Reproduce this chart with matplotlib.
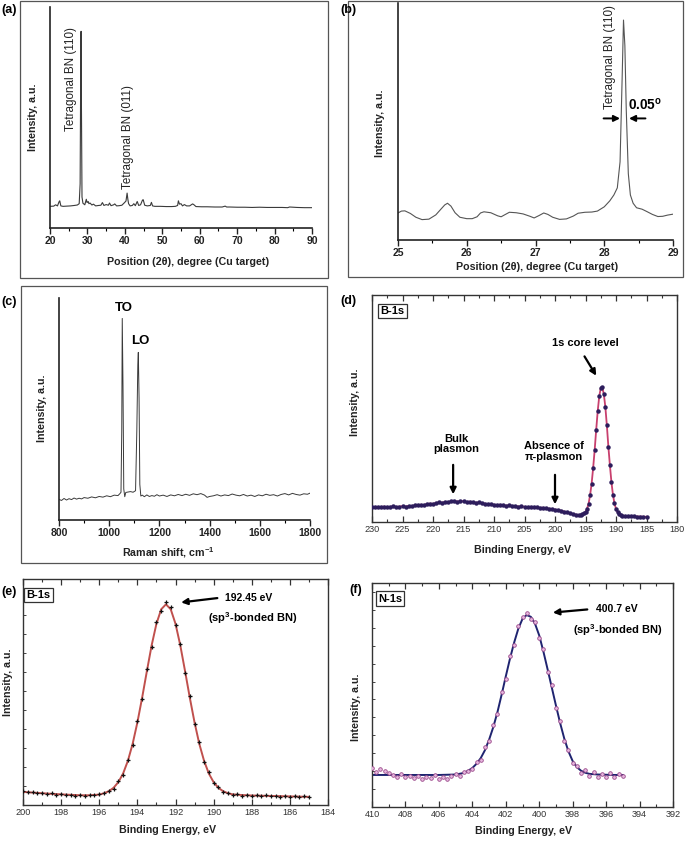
import numpy as np
import matplotlib
matplotlib.use('Agg')
import matplotlib.pyplot as plt
from matplotlib.ticker import MultipleLocator, NullFormatter, NullLocator
from matplotlib.patches import Rectangle

plt.rcParams['font.family'] = ['Liberation Sans', 'DejaVu Sans']
plt.rcParams['mathtext.fontset'] = 'custom'
plt.rcParams['mathtext.rm'] = 'Liberation Sans'
plt.rcParams['mathtext.bf'] = 'Liberation Sans:bold'
plt.rcParams['mathtext.it'] = 'Liberation Sans:italic'

# ---------------- data (intensities in % of axis height) ----------------
# (a) XRD survey
a_angle = [20.0, 21.0, 21.5, 22.0, 22.4, 22.6, 22.9, 23.5, 24.5, 25.5,
           26.5, 27.3, 27.8, 28.05, 28.2, 28.3, 28.4, 28.55, 28.8, 29.3,
           29.7, 29.9, 30.2, 30.4, 30.7, 31.2, 31.6, 32.2, 33.0, 33.6,
           34.0, 34.4, 35.0, 35.6, 35.9, 36.3, 37.0, 37.3, 37.8, 38.5,
           39.2, 39.8, 40.3, 40.6, 40.8, 41.0, 41.4, 42.0, 42.4, 42.8,
           43.3, 43.7, 44.2, 44.7, 44.9, 45.3, 46.0, 46.8, 47.1, 47.4,
           48.0, 49.5, 51.0, 52.5, 53.5, 54.1, 54.3, 54.6, 55.0, 55.4,
           55.9, 56.5, 57.3, 58.1, 58.4, 59.0, 60.5, 62.0, 64.0, 66.0,
           66.8, 67.2, 68.0, 70.0, 72.0, 74.0, 76.0, 78.0, 80.0, 82.0,
           83.5, 84.0, 86.0, 88.0, 90.0]
a_int = [9.8, 9.9, 10.5, 10.0, 11.8, 12.3, 10.0, 9.8, 9.9, 10.0,
         10.2, 10.4, 11.0, 20.0, 70.0, 89.0, 55.0, 14.0, 11.2, 10.5,
         13.0, 11.5, 12.0, 11.0, 11.3, 10.4, 10.8, 10.0, 10.2, 10.3,
         11.5, 10.2, 10.6, 10.3, 11.3, 10.1, 10.5, 10.9, 10.0, 10.1,
         10.3, 11.3, 12.2, 15.8, 13.0, 11.0, 10.0, 10.2, 11.0, 10.1,
         12.0, 10.2, 10.5, 12.6, 12.8, 10.3, 10.0, 10.2, 11.6, 10.0,
         9.8, 9.8, 9.7, 9.7, 9.8, 10.2, 12.3, 10.8, 11.0, 10.0,
         10.6, 10.0, 10.0, 10.9, 10.6, 9.7, 9.6, 9.6, 9.5, 9.5,
         9.9, 9.5, 9.5, 9.4, 9.4, 9.3, 9.4, 9.3, 9.3, 9.3,
         9.2, 9.5, 9.3, 9.2, 9.2]

# (b) XRD zoom on (110)
b_angle = [25.00, 25.05, 25.10, 25.18, 25.26, 25.35, 25.45, 25.55, 25.63, 25.68,
           25.72, 25.77, 25.83, 25.90, 26.00, 26.08, 26.15, 26.20, 26.25, 26.35,
           26.45, 26.50, 26.55, 26.62, 26.72, 26.82, 26.92, 26.98, 27.05, 27.12,
           27.18, 27.25, 27.35, 27.45, 27.55, 27.62, 27.72, 27.82, 27.90, 28.00,
           28.08, 28.14, 28.19, 28.23, 28.26, 28.28, 28.30, 28.32, 28.35, 28.38,
           28.42, 28.47, 28.55, 28.62, 28.70, 28.78, 28.85, 28.92, 29.00]
b_int = [11.4, 12.2, 12.3, 11.2, 9.6, 8.6, 8.8, 10.6, 13.2, 14.8,
         15.5, 14.3, 11.5, 9.6, 9.0, 9.0, 9.8, 11.4, 11.9, 11.5,
         10.2, 9.8, 10.6, 11.7, 11.5, 11.0, 10.0, 9.3, 10.3, 11.4,
         10.8, 9.6, 8.7, 8.9, 10.1, 11.3, 11.7, 11.8, 12.2, 14.0,
         16.5, 19.0, 22.0, 33.0, 68.0, 92.8, 82.0, 55.0, 28.0, 19.0,
         15.5, 13.6, 13.0, 12.0, 10.8, 9.9, 10.0, 10.5, 10.9]

# (c) Raman
c_shift = [800, 810, 820, 830, 840, 850, 860, 870, 880, 890, 900,
           915, 930, 945, 960, 975, 990, 1005, 1020, 1035,
           1042, 1047, 1050, 1052, 1055, 1058, 1062, 1066,
           1075, 1085, 1095, 1105,
           1110, 1114, 1116, 1119, 1122, 1126, 1132, 1140,
           1150, 1160, 1170, 1180, 1190, 1200,
           1215, 1230, 1245, 1260, 1275, 1290, 1305, 1320, 1335, 1350, 1365, 1380,
           1390, 1400,
           1415, 1430, 1445, 1460, 1475, 1490, 1505, 1520, 1535, 1550, 1565, 1580, 1595,
           1610, 1625, 1640, 1655, 1670, 1685, 1700, 1715, 1730, 1745, 1760, 1775, 1790,
           1800]
c_int = [9.3, 8.8, 9.7, 9.0, 9.6, 9.2, 9.9, 9.4, 9.8, 9.5, 10.1,
         9.8, 10.4, 10.0, 10.6, 10.3, 10.9, 10.5, 11.2, 11.0,
         11.8, 12.5, 40.0, 90.8, 60.0, 14.0, 10.5, 12.4,
         12.6, 12.8, 12.5, 13.2,
         40.0, 70.0, 75.5, 55.0, 16.0, 10.8, 11.2, 10.5,
         11.3, 10.6, 11.0, 10.7, 11.4, 10.8,
         11.2, 10.6, 11.3, 10.9, 11.5, 11.0, 11.6, 11.1, 11.8, 11.4, 11.9, 11.2,
         10.2, 10.6,
         10.9, 11.4, 10.8, 11.3, 11.0, 11.7, 11.2, 10.9, 11.5, 10.8, 11.2, 10.6, 11.3,
         10.9, 11.6, 11.1, 11.4, 10.8, 11.5, 11.9, 11.3, 12.0, 11.5, 11.2, 11.8, 11.6,
         12.1]

# (d) XPS B-1s wide
d_energy = [230.0, 229.5, 229.0, 228.5, 228.0, 227.5, 227.0, 226.5, 226.0, 225.5,
            225.0, 224.5, 224.0, 223.5, 223.0, 222.5, 222.0, 221.5, 221.0, 220.5,
            220.0, 219.5, 219.0, 218.5, 218.0, 217.5, 217.0, 216.5, 216.0, 215.5,
            215.0, 214.5, 214.0, 213.5, 213.0, 212.5, 212.0, 211.5, 211.0, 210.5,
            210.0, 209.5, 209.0, 208.5, 208.0, 207.5, 207.0, 206.5, 206.0, 205.5,
            205.0, 204.5, 204.0, 203.5, 203.0, 202.5, 202.0, 201.5, 201.0, 200.5,
            200.0, 199.5, 199.0, 198.5, 198.0, 197.5, 197.0, 196.5, 196.0,
            195.75, 195.5, 195.25, 195.0, 194.75, 194.5, 194.25, 194.0, 193.75, 193.5,
            193.25, 193.0, 192.75, 192.5, 192.25, 192.0, 191.75, 191.5, 191.25, 191.0,
            190.75, 190.5, 190.25, 190.0, 189.75, 189.5, 189.25, 189.0,
            188.5, 188.0, 187.5, 187.0, 186.5, 186.0, 185.5, 185.0]
d_int = [6.5, 6.7, 6.4, 6.6, 6.8, 6.5, 6.7, 6.9, 6.6, 6.8,
         7.0, 6.8, 7.1, 7.0, 7.3, 7.4, 7.6, 7.5, 7.9, 8.1,
         8.0, 8.4, 8.6, 8.5, 8.9, 8.8, 9.1, 9.3, 9.0, 9.2,
         9.1, 8.8, 9.0, 8.7, 8.5, 8.6, 8.2, 8.1, 7.8, 7.9,
         7.6, 7.5, 7.6, 7.3, 7.2, 7.3, 7.0, 7.1, 6.8, 6.9,
         6.7, 6.6, 6.7, 6.4, 6.5, 6.2, 6.3, 6.0, 5.9, 5.7,
         5.5, 5.2, 5.0, 4.6, 4.3, 3.8, 3.5, 3.2, 3.1,
         3.3, 3.4, 3.8, 4.5, 5.8, 8.0, 11.8, 16.8, 23.7, 31.6,
         40.5, 48.8, 55.3, 59.0, 59.3, 56.4, 50.8, 42.6, 33.2, 25.0,
         17.6, 12.0, 8.2, 5.8, 4.3, 3.5, 3.0, 2.8,
         2.7, 2.6, 2.6, 2.5, 2.4, 2.4, 2.3, 2.3]

# (e) XPS B-1s high resolution: measured points and fitted curve
e_energy = [200.0, 199.75, 199.5, 199.25, 199.0, 198.75, 198.5, 198.25, 198.0, 197.75,
            197.5, 197.25, 197.0, 196.75, 196.5, 196.25, 196.0, 195.75, 195.5, 195.25,
            195.0, 194.75, 194.5, 194.25, 194.0, 193.75, 193.5, 193.25, 193.0, 192.75,
            192.5, 192.25, 192.0, 191.75, 191.5, 191.25, 191.0, 190.75, 190.5, 190.25,
            190.0, 189.75, 189.5, 189.25, 189.0, 188.75, 188.5, 188.25, 188.0, 187.75,
            187.5, 187.25, 187.0, 186.75, 186.5, 186.25, 186.0, 185.75, 185.5, 185.25,
            185.0]
e_int = [6.2, 5.6, 5.9, 5.4, 5.3, 5.0, 5.1, 4.6, 4.8, 4.4,
         4.6, 4.1, 4.4, 4.2, 4.5, 4.3, 4.9, 5.4, 6.4, 7.3,
         10.6, 13.4, 20.1, 26.4, 37.2, 46.8, 60.1, 70.0, 81.0, 86.0,
         90.0, 87.5, 79.6, 71.4, 58.6, 48.3, 35.8, 27.7, 18.9, 14.5,
         9.7, 8.0, 5.8, 5.5, 4.5, 4.8, 4.2, 4.6, 4.1, 4.4,
         3.9, 4.3, 3.8, 4.2, 3.7, 4.0, 3.6, 3.9, 3.5, 3.8,
         3.4]
e_fit_energy = [200.0, 199.0, 198.0, 197.0, 196.5, 196.0,
                195.75, 195.5, 195.25, 195.0, 194.75, 194.5, 194.25, 194.0, 193.75,
                193.5, 193.25, 193.0, 192.75, 192.5, 192.25, 192.0, 191.75, 191.5,
                191.25, 191.0, 190.75, 190.5, 190.25, 190.0, 189.75, 189.5, 189.25,
                189.0, 188.5, 188.0, 187.0, 186.0, 185.0]
e_fit_int = [5.8, 5.2, 4.7, 4.3, 4.3, 4.6,
             5.2, 6.1, 7.6, 10.1, 13.9, 19.5, 27.0, 36.5, 47.5,
             59.3, 70.7, 80.2, 86.6, 88.8, 86.6, 80.2, 70.7, 59.3,
             47.5, 36.5, 27.0, 19.5, 13.9, 10.1, 7.6, 6.1, 5.2,
             4.7, 4.4, 4.2, 4.0, 3.8, 3.6]

# (f) XPS N-1s high resolution: measured points and fitted curve
f_energy = [410.0, 409.75, 409.5, 409.25, 409.0, 408.75, 408.5, 408.25, 408.0, 407.75,
            407.5, 407.25, 407.0, 406.75, 406.5, 406.25, 406.0, 405.75, 405.5, 405.25,
            405.0, 404.75, 404.5, 404.25, 404.0, 403.75, 403.5, 403.25, 403.0, 402.75,
            402.5, 402.25, 402.0, 401.75, 401.5, 401.25, 401.0, 400.75, 400.5, 400.25,
            400.0, 399.75, 399.5, 399.25, 399.0, 398.75, 398.5, 398.25, 398.0, 397.75,
            397.5, 397.25, 397.0, 396.75, 396.5, 396.25, 396.0, 395.75, 395.5, 395.25,
            395.0]
f_int = [17.5, 15.8, 17.0, 16.2, 15.0, 14.2, 13.5, 14.8, 13.2, 14.0,
         12.8, 13.9, 12.5, 13.6, 12.9, 14.1, 12.6, 13.4, 12.4, 13.8,
         14.6, 14.0, 15.6, 15.9, 17.0, 20.2, 21.0, 26.6, 29.3, 36.8,
         41.5, 51.4, 57.2, 67.5, 72.4, 80.8, 84.6, 86.8, 84.0, 82.6,
         75.4, 70.5, 60.3, 54.6, 44.2, 38.4, 29.6, 25.5, 19.8, 18.5,
         15.4, 16.4, 13.8, 15.6, 13.5, 14.9, 13.2, 15.2, 13.6, 14.7,
         13.9]
f_fit_energy = [410.0, 409.0, 408.0, 407.0, 406.0, 405.0, 404.5,
                404.25, 404.0, 403.75, 403.5, 403.25, 403.0, 402.75, 402.5, 402.25,
                402.0, 401.75, 401.5, 401.25, 401.0, 400.75, 400.5, 400.25, 400.0,
                399.75, 399.5, 399.25, 399.0, 398.75, 398.5, 398.25, 398.0, 397.75,
                397.5, 397.25, 397.0, 396.5, 396.0, 395.5, 395.0]
f_fit_int = [14.3, 14.3, 14.3, 14.3, 14.3, 14.5, 15.2,
             16.2, 17.4, 19.3, 21.8, 25.3, 30.0, 35.6, 42.3, 50.1,
             58.3, 66.2, 73.4, 79.6, 84.0, 85.7, 84.9, 81.8, 76.6,
             69.4, 61.5, 53.4, 45.3, 37.5, 30.5, 24.8, 20.5, 17.8,
             16.2, 15.3, 14.8, 14.5, 14.4, 14.3, 14.3]

# ---------------- figure ----------------
W, H = 685, 844
fig = plt.figure(figsize=(W / 100, H / 100), dpi=100)
fig.patch.set_facecolor('white')


def add_ax(left, top, right, bottom):
    return fig.add_axes([left / W, 1 - bottom / H, (right - left) / W, (bottom - top) / H])


def ftext(x, y, s, **kw):
    kw.setdefault('ha', 'center')
    kw.setdefault('va', 'center')
    return fig.text(x / W, 1 - y / H, s, **kw)


def fbox(left, top, right, bottom):
    fig.add_artist(Rectangle((left / W, 1 - bottom / H), (right - left) / W, (bottom - top) / H,
                             transform=fig.transFigure, fill=False, lw=0.9, ec='#555555'))


TICK_FS = 7.5
LAB_FS = 7.7
PANEL_FS = 9
ANN_FS = 8.4
LINE_C = '#3a3a3a'


def style_open(ax, major, minor):
    for s in ('top', 'right'):
        ax.spines[s].set_visible(False)
    for s in ('left', 'bottom'):
        ax.spines[s].set_linewidth(1.2)
        ax.spines[s].set_color('#222222')
    ax.yaxis.set_major_locator(NullLocator())
    ax.xaxis.set_major_locator(MultipleLocator(major))
    ax.xaxis.set_minor_locator(MultipleLocator(minor))
    ax.tick_params(axis='x', which='major', direction='out', length=4, width=1.0,
                   labelsize=TICK_FS, pad=2, colors='#222222')
    ax.tick_params(axis='x', which='minor', direction='out', length=2.5, width=0.8)
    for t in ax.get_xticklabels():
        t.set_fontweight('bold')
    ax.set_ylim(0, 100)


def style_box(ax, major, minor, yticks=None):
    for s in ax.spines.values():
        s.set_linewidth(1.0)
        s.set_color('#333333')
    ax.xaxis.set_major_locator(MultipleLocator(major))
    ax.xaxis.set_minor_locator(MultipleLocator(minor))
    if yticks is None:
        ax.yaxis.set_major_locator(NullLocator())
    else:
        ax.yaxis.set_major_locator(MultipleLocator(yticks))
        ax.yaxis.set_major_formatter(NullFormatter())
    ax.tick_params(axis='x', which='both', direction='in', top=True, bottom=True,
                   labelsize=6.6, pad=2.5, colors='#333333')
    ax.tick_params(axis='x', which='major', length=4, width=0.9)
    ax.tick_params(axis='x', which='minor', length=2.5, width=0.8)
    ax.tick_params(axis='y', which='major', direction='in', left=True, right=False,
                   length=2.5, width=0.7, colors='#444444')
    ax.set_ylim(0, 100)


# ---- (a)
fbox(20, 1, 328, 278)
axa = add_ax(50, 7, 312, 228)
axa.plot(a_angle, a_int, color=LINE_C, lw=0.8)
axa.set_xlim(20, 90)
style_open(axa, 10, 5)
axa.text(25.7, 67.5, 'Tetragonal BN (110)', rotation=90, ha='center', va='center', fontsize=ANN_FS, color='#222')
axa.text(40.9, 41.0, 'Tetragonal BN (011)', rotation=90, ha='center', va='center', fontsize=ANN_FS, color='#222')
ftext(188, 262, 'Position (2θ), degree (Cu target)', fontsize=LAB_FS, fontweight='bold', color='#222')
ftext(33, 117, 'Intensity, a.u.', rotation=90, fontsize=LAB_FS, fontweight='bold', color='#222')
ftext(1, 10, '(a)', ha='left', fontsize=PANEL_FS, fontweight='bold')

# ---- (b)
fbox(348, 1, 683, 277)
axb = add_ax(398, 3, 673, 240)
axb.plot(b_angle, b_int, color='#555555', lw=0.8)
axb.set_xlim(25, 29)
style_open(axb, 1, 0.5)
axb.text(28.08, 77.0, 'Tetragonal BN (110)', rotation=90, ha='center', va='center', fontsize=ANN_FS, color='#222')
axb.text(28.6, 57, r'0.05$^{\mathbf{o}}$', ha='center', va='center', fontsize=9.8, fontweight='bold')
axb.annotate('', xy=(28.27, 51.3), xytext=(27.95, 51.3),
             arrowprops=dict(arrowstyle='-|>', color='black', lw=1.4, mutation_scale=9))
axb.annotate('', xy=(28.32, 51.3), xytext=(28.64, 51.3),
             arrowprops=dict(arrowstyle='-|>', color='black', lw=1.4, mutation_scale=9))
ftext(537, 267, 'Position (2θ), degree (Cu target)', fontsize=LAB_FS, fontweight='bold', color='#222')
ftext(380, 123, 'Intensity, a.u.', rotation=90, fontsize=LAB_FS, fontweight='bold', color='#222')
ftext(340, 10, '(b)', ha='left', fontsize=PANEL_FS, fontweight='bold')

# ---- (c)
fbox(21, 286, 327, 563)
axc = add_ax(59, 298, 310, 520)
axc.plot(c_shift, c_int, color=LINE_C, lw=0.7)
axc.set_xlim(800, 1800)
style_open(axc, 200, 100)
axc.text(1059, 95.5, 'TO', ha='center', va='center', fontsize=9.5, fontweight='bold')
axc.text(1123, 80.8, 'LO', ha='center', va='center', fontsize=9.5, fontweight='bold')
ftext(168, 553, r'Raman shift, cm$^{\mathbf{-1}}$', fontsize=LAB_FS, fontweight='bold', color='#222')
ftext(42, 408, 'Intensity, a.u.', rotation=90, fontsize=LAB_FS, fontweight='bold', color='#222')
ftext(1, 302, '(c)', ha='left', fontsize=PANEL_FS, fontweight='bold')

# ---- (d)
axd = add_ax(372, 295, 677, 522)
axd.plot(d_energy, d_int, color='#c8406e', lw=1.3, zorder=2)
axd.plot(d_energy, d_int, ls='none', marker='o', ms=2.2, mfc='#2d1d5c', mec='#2d1d5c', zorder=3)
axd.set_xlim(230, 180)
style_box(axd, 5, 2.5)
axd.text(0.028, 0.93, 'B-1s', transform=axd.transAxes, ha='left', va='center', fontsize=8,
         fontweight='bold', bbox=dict(boxstyle='square,pad=0.2', fc='white', ec='#333', lw=0.9))
axd.text(195.1, 79, '1s core level', ha='center', va='center', fontsize=8, fontweight='bold')
axd.annotate('', xy=(193.0, 63.4), xytext=(195.4, 74),
             arrowprops=dict(arrowstyle='-|>', color='black', lw=1.6, mutation_scale=9))
axd.text(216.1, 34.2, 'Bulk\nplasmon', ha='center', va='center', fontsize=8, fontweight='bold',
         linespacing=1.0)
axd.annotate('', xy=(216.7, 11), xytext=(216.7, 26.4),
             arrowprops=dict(arrowstyle='-|>', color='black', lw=1.6, mutation_scale=9))
axd.text(200.2, 30.9, 'Absence of\nπ-plasmon', ha='center', va='center', fontsize=8, fontweight='bold',
         linespacing=1.1)
axd.annotate('', xy=(200.0, 6.6), xytext=(200.0, 22),
             arrowprops=dict(arrowstyle='-|>', color='black', lw=1.6, mutation_scale=9))
ftext(523, 550, 'Binding Energy, eV', fontsize=LAB_FS, fontweight='bold', color='#222')
ftext(355, 402, 'Intensity, a.u.', rotation=90, fontsize=LAB_FS, fontweight='bold', color='#222')
ftext(340, 301, '(d)', ha='left', fontsize=PANEL_FS, fontweight='bold')

# ---- (e)
axe = add_ax(23, 579, 328, 805)
axe.plot(e_fit_energy, e_fit_int, color='#c0504d', lw=1.4, zorder=2)
axe.plot(e_energy, e_int, ls='none', marker='+', ms=3.5, mew=0.9, color='#111111', zorder=3)
axe.set_xlim(200, 184)
style_box(axe, 2, 1, yticks=8.4)
axe.text(0.012, 0.93, 'B-1s', transform=axe.transAxes, ha='left', va='center', fontsize=8,
         fontweight='bold', bbox=dict(boxstyle='square,pad=0.2', fc='white', ec='#333', lw=0.9))
axe.annotate('', xy=(191.85, 89.5), xytext=(189.66, 91.7),
             arrowprops=dict(arrowstyle='-|>', color='black', lw=1.6, mutation_scale=9))
axe.text(189.4, 91.6, '192.45 eV', ha='left', va='center', fontsize=7.5, fontweight='bold')
axe.text(187.95, 82.7, r'(sp$^{\mathbf{3}}$-bonded BN)', ha='center', va='center', fontsize=8, fontweight='bold')
ftext(168, 830, 'Binding Energy, eV', fontsize=LAB_FS, fontweight='bold', color='#222')
ftext(8, 682, 'Intensity, a.u.', rotation=90, fontsize=LAB_FS, fontweight='bold', color='#222')
ftext(1, 592, '(e)', ha='left', fontsize=PANEL_FS, fontweight='bold')

# ---- (f)
axf = add_ax(372, 583, 673, 807)
axf.plot(f_fit_energy, f_fit_int, color='#1f2470', lw=1.4, zorder=2)
axf.plot(f_energy, f_int, ls='none', marker='o', ms=2.6, mfc='#e8b8e0', mec='#9a4a8a', mew=0.6, zorder=3)
axf.set_xlim(410, 392)
style_box(axf, 2, 1, yticks=8.0)
axf.text(0.02, 0.93, 'N-1s', transform=axf.transAxes, ha='left', va='center', fontsize=8,
         fontweight='bold', bbox=dict(boxstyle='square,pad=0.2', fc='white', ec='#333', lw=0.9))
axf.annotate('', xy=(399.35, 86.7), xytext=(396.96, 88.3),
             arrowprops=dict(arrowstyle='-|>', color='black', lw=1.6, mutation_scale=9))
axf.text(396.6, 88.4, '400.7 eV', ha='left', va='center', fontsize=7.5, fontweight='bold')
axf.text(395.3, 79, r'(sp$^{\mathbf{3}}$-bonded BN)', ha='center', va='center', fontsize=8, fontweight='bold')
ftext(524, 831, 'Binding Energy, eV', fontsize=LAB_FS, fontweight='bold', color='#222')
ftext(356, 707, 'Intensity, a.u.', rotation=90, fontsize=LAB_FS, fontweight='bold', color='#222')
ftext(349, 590, '(f)', ha='left', fontsize=PANEL_FS, fontweight='bold')

fig.savefig('out.png', dpi=100, facecolor='white')
